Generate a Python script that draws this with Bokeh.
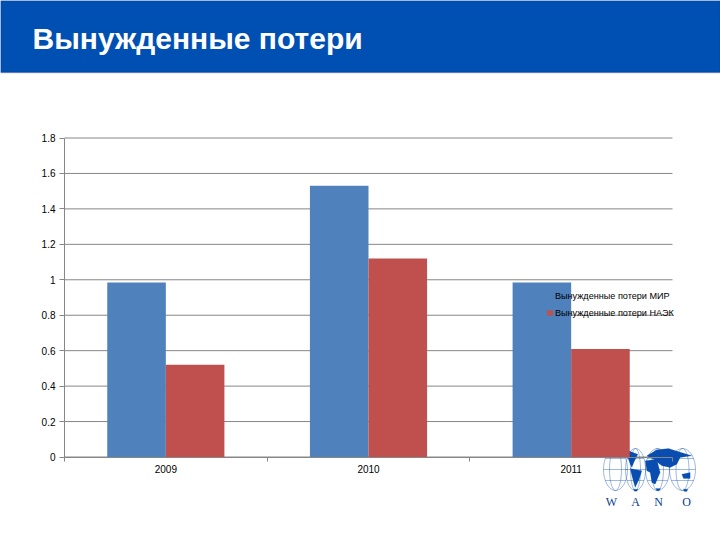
from bokeh.plotting import figure
from bokeh.models import (Range1d, LinearAxis, FixedTicker, Legend, LegendItem, Label,
                          BoxAnnotation, PolyAnnotation)
from bokeh.embed import file_html
from bokeh.resources import INLINE
import math

years = ["2009", "2010", "2011"]
world = [0.985, 1.53, 0.985]
naek = [0.52, 1.12, 0.61]
y_ticks = [0, 0.2, 0.4, 0.6, 0.8, 1, 1.2, 1.4, 1.6, 1.8]
y_labels = ["0", "0.2", "0.4", "0.6", "0.8", "1", "1.2", "1.4", "1.6", "1.8"]
title_text = "Вынужденные потери"
series_names = ["Вынужденные потери МИР", "Вынужденные потери НАЭК"]

W, H = 720, 540
L, R, T, B = 64, 672, 137.5, 456.5   # plot box on the page
GRID = "#868686"
FONT = "Liberation Sans"

ux = (R - L) / len(years)
uy = (B - T) / 1.8
p = figure(width=W, height=H, output_backend="svg", toolbar_location=None,
           x_range=Range1d(-L / ux, len(years) + (W - R) / ux),
           y_range=Range1d(-(H - B) / uy, 1.8 + T / uy),
           x_axis_type=None, y_axis_type=None,
           min_border_left=0, min_border_right=0, min_border_top=0, min_border_bottom=0)
p.outline_line_color = None

xa = LinearAxis(ticker=FixedTicker(ticks=[i + 0.5 for i in range(len(years))],
                                   minor_ticks=list(range(len(years) + 1))),
                major_label_overrides={i + 0.5: y for i, y in enumerate(years)},
                fixed_location=0, bounds=(0, len(years)))
xa.major_tick_line_color = None
xa.minor_tick_out = 4
xa.minor_tick_in = 0
xa.minor_tick_line_color = GRID
xa.axis_line_color = GRID
xa.major_label_text_font = FONT
xa.major_label_text_font_size = "10px"
xa.major_label_text_color = "#000000"
xa.major_label_standoff = 2
p.add_layout(xa, "below")

ya = LinearAxis(ticker=FixedTicker(ticks=y_ticks),
                major_label_overrides=dict(zip(y_ticks, y_labels)),
                fixed_location=0, bounds=(0, 1.8))
ya.major_tick_out = 5
ya.major_tick_in = 0
ya.minor_tick_line_color = None
ya.major_tick_line_color = GRID
ya.axis_line_color = GRID
ya.major_label_text_font = FONT
ya.major_label_text_font_size = "10px"
ya.major_label_text_color = "#000000"
ya.major_label_standoff = 4
p.add_layout(ya, "left")

# horizontal rules only across the plot box
p.segment(x0=[0] * len(y_ticks), x1=[len(years)] * len(y_ticks), y0=y_ticks, y1=y_ticks,
          line_color=GRID, line_width=1, level="underlay")

# WANO logo decoration (behind the bars)
LOGO = "#0A4DB0"
def sy(y): return H - y
def ell(cx, cy, rx, ry, n=36):
    a = [2 * math.pi * i / n for i in range(n)]
    return [cx + rx * math.cos(t) for t in a], [sy(cy + ry * math.sin(t)) for t in a]
def poly(xs, ys, **kw):
    p.add_layout(PolyAnnotation(xs=xs, ys=ys, xs_units="screen", ys_units="screen",
                                level="underlay", **kw))
LINE = dict(fill_alpha=0, line_color=LOGO, line_width=0.6, line_alpha=0.65)
for cx, rx in ((615, 12), (635, 10), (657, 12), (682, 13)):
    xs, ys = ell(cx, 469, rx, 21)
    poly(xs, ys, **LINE)
    xs, ys = ell(cx, 469, rx * 0.5, 21)
    poly(xs, ys, **LINE)
    for dy in (-11, 0, 11):
        hw = rx * math.sqrt(1 - (dy / 21) ** 2)
        poly([cx - hw, cx + hw], [sy(469 + dy)] * 2, **LINE)
land_zoom = [
    [(90, 25), (118, 35), (106, 60), (100, 75), (95, 65), (88, 45)],
    [(95, 78), (130, 85), (122, 110), (110, 135), (103, 110)],
    [(140, 55), (175, 50), (185, 90), (170, 125), (160, 120), (155, 90), (145, 85)],
    [(145, 40), (175, 22), (210, 18), (280, 40), (245, 45), (235, 65), (215, 75), (190, 70), (165, 50)],
    [(250, 95), (275, 90), (275, 108), (255, 108)],
    [(105, 140), (118, 140), (115, 146), (108, 146)],
    [(172, 138), (186, 138), (182, 145), (175, 145)],
    [(254, 140), (268, 140), (265, 147), (258, 147)],
]
for shape in land_zoom:
    poly([598 + a / 3 for a, _ in shape], [sy(442 + b / 3) for _, b in shape],
         fill_color=LOGO, fill_alpha=1, line_color=LOGO, line_width=0.5)
for ch, x in zip("WANO", (611, 635, 658, 686)):
    p.add_layout(Label(x=x, y=sy(501), x_units="screen", y_units="screen", text=ch,
                       text_color="#0A3C8C", text_font="Liberation Serif", text_font_size="12px",
                       text_align="center", text_baseline="middle"))

BW = 0.289
centres = [i + 0.5 for i in range(len(years))]
r1 = p.vbar(x=[c - BW / 2 for c in centres], top=world, width=BW, fill_color="#4F81BD", line_color=None)
r2 = p.vbar(x=[c + BW / 2 for c in centres], top=naek, width=BW, fill_color="#C0504D", line_color=None)

leg = Legend(items=[LegendItem(label=series_names[0], renderers=[r1]),
                    LegendItem(label=series_names[1], renderers=[r2])],
             location=(546, sy(318)), background_fill_alpha=0, border_line_color=None,
             label_text_font=FONT, label_text_font_size="9.1px", label_text_color="#000000",
             glyph_width=7, glyph_height=7, spacing=6, padding=0, margin=0,
             label_standoff=2, label_height=11)
p.add_layout(leg, "center")

# header band
p.add_layout(BoxAnnotation(left=0, right=W, top=H, bottom=H - 72,
                           left_units="screen", right_units="screen",
                           top_units="screen", bottom_units="screen",
                           fill_color="#0050B4", fill_alpha=1, line_color="#0A1E60", line_width=1.5))
p.add_layout(Label(x=32, y=sy(38), x_units="screen", y_units="screen", text=title_text,
                   text_color="white", text_font=FONT, text_font_style="bold",
                   text_font_size="30px", text_baseline="middle"))

open("out.html", "w").write(file_html(p, INLINE))
